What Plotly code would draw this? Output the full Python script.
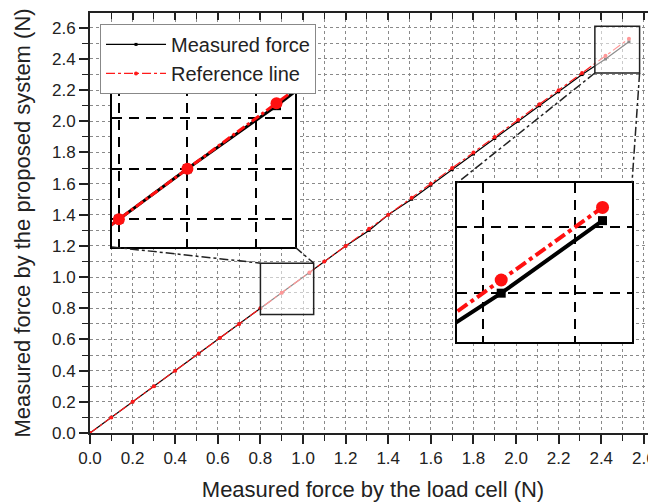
import plotly.graph_objects as go

# ---------------- data ----------------
load_cell = [0.00, 0.10, 0.20, 0.30, 0.40, 0.51, 0.61, 0.70, 0.80, 0.90, 1.03, 1.10, 1.20,
             1.31, 1.40, 1.51, 1.60, 1.70, 1.80, 1.90, 2.01, 2.11, 2.20, 2.31, 2.42, 2.53]
measured = [0.00, 0.10, 0.20, 0.30, 0.40, 0.51, 0.61, 0.70, 0.80, 0.90, 1.025, 1.10, 1.20,
            1.30, 1.40, 1.50, 1.59, 1.69, 1.79, 1.89, 2.00, 2.10, 2.19, 2.30, 2.40, 2.51]
reference = list(load_cell)

tick_values = [0.0, 0.2, 0.4, 0.6, 0.8, 1.0, 1.2, 1.4, 1.6, 1.8, 2.0, 2.2, 2.4, 2.6]
tick_labels = ["0.0", "0.2", "0.4", "0.6", "0.8", "1.0", "1.2", "1.4", "1.6", "1.8",
               "2.0", "2.2", "2.4", "2.6"]
inset1_grid = [0.8, 0.9, 1.0]
inset2_grid = [2.4, 2.5]

series_names = ["Measured force", "Reference line"]
x_title = "Measured force by the load cell (N)"
y_title = "Measured force by the proposed system (N)"

# ---------------- layout config ----------------
# the page body has an 8px margin, so the figure is sized to the visible area
FIG_W, FIG_H = 648, 496
X_RANGE = [0, 2.657]
Y_RANGE = [0, 2.695]
INSET1 = dict(xd=[0.0389, 0.3622], yd=[0.4429, 0.8262], xr=[0.79, 1.057], yr=[0.745, 1.064])
INSET2 = dict(xd=[0.6484, 0.9576], yd=[0.2167, 0.5952], xr=[2.372, 2.562], yr=[2.326, 2.567])
BOX1 = dict(x0=0.80, x1=1.05, y0=0.76, y1=1.09)
BOX2 = dict(x0=2.37, x1=2.58, y0=2.31, y1=2.61)

FONT = "Liberation Sans, Arial, sans-serif"
TXT = "#222222"

fig = go.Figure()

# main traces
fig.add_trace(go.Scatter(x=load_cell, y=measured, name=series_names[0], mode="lines+markers",
                         line=dict(color="black", width=1.2),
                         marker=dict(symbol="square", size=3, color="black"),
                         xaxis="x", yaxis="y"))
fig.add_trace(go.Scatter(x=load_cell, y=reference, name=series_names[1], mode="lines+markers",
                         line=dict(color="#ff1a1a", width=1.2, dash="dashdot"),
                         marker=dict(symbol="circle", size=4, color="#ff1a1a"),
                         xaxis="x", yaxis="y"))
# dummy trace for the top mirror axis
fig.add_trace(go.Scatter(x=load_cell, y=reference, mode="lines", line=dict(color="rgba(0,0,0,0)"),
                         hoverinfo="skip", showlegend=False, xaxis="x2", yaxis="y"))

# inset traces
for xa, ya, lw, ms_sq, ms_c in [("x3", "y3", 3, 9, 12), ("x4", "y4", 4, 9, 13)]:
    fig.add_trace(go.Scatter(x=load_cell, y=measured, mode="lines+markers", showlegend=False,
                             line=dict(color="black", width=lw),
                             marker=dict(symbol="square", size=ms_sq, color="black"),
                             xaxis=xa, yaxis=ya, hoverinfo="skip"))
    fig.add_trace(go.Scatter(x=load_cell, y=reference, mode="lines+markers", showlegend=False,
                             line=dict(color="#ff1010", width=lw, dash="dashdot"),
                             marker=dict(symbol="circle", size=ms_c, color="#ff1010"),
                             xaxis=xa, yaxis=ya, hoverinfo="skip"))

grid_common = dict(gridcolor="#8a8a8a", griddash="dot", gridwidth=1)

main_axis = dict(
    automargin=False,
    showline=True, linecolor="#222", linewidth=2, zeroline=False,
    tickmode="array", tickvals=tick_values, ticktext=tick_labels,
    ticks="outside", ticklen=9, tickwidth=1.5, tickcolor="#222",
    tickfont=dict(size=17, color=TXT, family=FONT),
    showgrid=True, **grid_common,
    minor=dict(tickmode="linear", tick0=0, dtick=0.1, ticks="outside", ticklen=6,
               tickwidth=1.2, tickcolor="#222", showgrid=True, **grid_common),
)

def inset_axis(domain, rng, grid, anchor):
    return dict(domain=domain, range=rng, anchor=anchor, automargin=False, showline=True,
                mirror=True, linecolor="black", linewidth=2, zeroline=False,
                showticklabels=False, ticks="", tickmode="array", tickvals=grid, showgrid=True,
                gridcolor="black", gridwidth=2, griddash="10px,7px")

fig.update_layout(
    width=FIG_W, height=FIG_H, autosize=False,
    margin=dict(l=82, r=0, t=5, b=71, pad=0),
    paper_bgcolor="white", plot_bgcolor="white",
    font=dict(family=FONT, color=TXT),
    showlegend=True,
    xaxis=dict(range=X_RANGE, domain=[0, 1], anchor="y",
               title=dict(text=x_title, font=dict(size=22, color=TXT, family=FONT), standoff=14),
               **main_axis),
    yaxis=dict(range=Y_RANGE, domain=[0, 1], anchor="x",
               title=dict(text=y_title, font=dict(size=22, color=TXT, family=FONT), standoff=15),
               **main_axis),
    xaxis2=dict(range=X_RANGE, overlaying="x", side="top", anchor="y", automargin=False,
                showline=True, linecolor="#222", linewidth=2, showticklabels=False,
                showgrid=False, zeroline=False,
                tickmode="array", tickvals=tick_values, ticks="inside", ticklen=7, tickwidth=1.5,
                tickcolor="#222",
                minor=dict(tickmode="linear", tick0=0, dtick=0.1, ticks="inside", ticklen=6,
                           tickwidth=1.2, tickcolor="#222", showgrid=False)),
    xaxis3=inset_axis(INSET1["xd"], INSET1["xr"], inset1_grid, "y3"),
    yaxis3=inset_axis(INSET1["yd"], INSET1["yr"], inset1_grid, "x3"),
    xaxis4=inset_axis(INSET2["xd"], INSET2["xr"], inset2_grid, "y4"),
    yaxis4=inset_axis(INSET2["yd"], INSET2["yr"], inset2_grid, "x4"),
    legend=dict(x=0.0177, y=0.974, xanchor="left", yanchor="top", bgcolor="white",
                bordercolor="#888", borderwidth=1, font=dict(size=20, color=TXT, family=FONT),
                tracegroupgap=0, itemwidth=60),
)

# zoom boxes (semi-transparent) and connectors
def px(p):
    return X_RANGE[0] + p * (X_RANGE[1] - X_RANGE[0])

def py(p):
    return Y_RANGE[0] + p * (Y_RANGE[1] - Y_RANGE[0])

for b in (BOX1, BOX2):
    fig.add_shape(type="rect", xref="x", yref="y", x0=b["x0"], x1=b["x1"], y0=b["y0"], y1=b["y1"],
                  line=dict(color="#222", width=1.5), fillcolor="rgba(255,255,255,0.55)", layer="above")

conn = dict(color="#222", width=1.5, dash="dashdot")
connectors = [
    (px(INSET1["xd"][0]), py(INSET1["yd"][0]), BOX1["x0"], BOX1["y1"]),
    (px(INSET1["xd"][1]), py(INSET1["yd"][0]), BOX1["x1"], BOX1["y1"]),
    (BOX2["x0"], BOX2["y0"], px(INSET2["xd"][0]), py(INSET2["yd"][1])),
    (BOX2["x1"], BOX2["y0"], px(INSET2["xd"][1]), py(INSET2["yd"][1])),
]
for x0, y0, x1, y1 in connectors:
    fig.add_shape(type="line", xref="x", yref="y", x0=x0, y0=y0, x1=x1, y1=y1, line=conn, layer="above")

fig.write_html("out.html")
